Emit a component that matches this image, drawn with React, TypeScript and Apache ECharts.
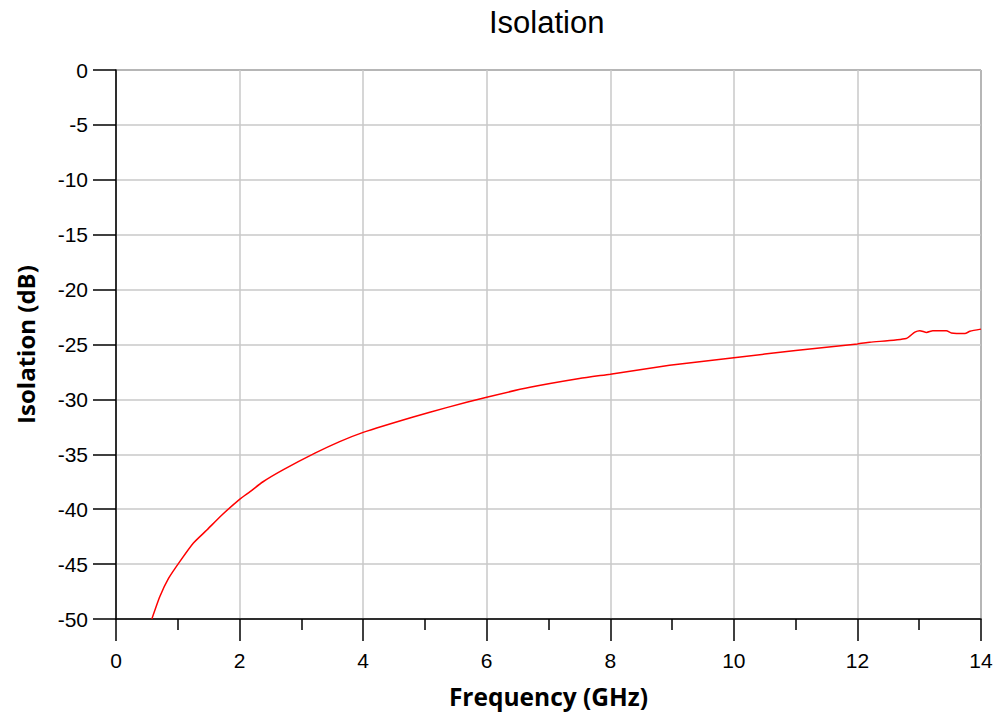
import React, { useEffect, useRef } from "react";
import * as echarts from "echarts";

const freqGHz = [
  0.58, 0.71, 0.85, 1.035, 1.25, 1.47, 1.71, 2.0, 2.17, 2.38, 2.71, 3.22, 3.62, 4.0, 4.81, 5.35, 6.0, 6.7, 7.5,
  8.0, 8.96, 10.0, 11.0, 12.0, 12.2, 12.79, 12.93, 13.01, 13.12, 13.22, 13.44, 13.52, 13.74, 13.82, 14.0,
];
const isolationDb = [
  -50, -47.95, -46.3, -44.75, -43.1, -41.9, -40.55, -39.1, -38.4, -37.5, -36.4, -34.9, -33.85, -33.0, -31.6,
  -30.75, -29.8, -28.9, -28.1, -27.7, -26.9, -26.2, -25.55, -24.95, -24.8, -24.45, -23.87, -23.74, -23.9,
  -23.74, -23.74, -23.95, -24.0, -23.8, -23.6,
];

const titleText = "Isolation";
const xName = "Frequency (GHz)";
const yName = "Isolation (dB)";

export default function App() {
  const ref = useRef<HTMLDivElement>(null);
  useEffect(() => {
    if (!ref.current) return;
    const chart = echarts.init(ref.current, undefined, { renderer: "svg" });
    const data = freqGHz.map((f, i) => [f, isolationDb[i]]);
    chart.setOption({
      animation: false,
      backgroundColor: "#fff",
      title: {
        text: titleText,
        left: 489,
        top: 7,
        padding: 0,
        textStyle: {
          fontFamily: "Liberation Sans",
          fontSize: 31,
          fontWeight: "normal",
          color: "#000",
        },
      },
      grid: {
        left: 116,
        right: 16,
        top: 70,
        bottom: 98,
        show: true,
        borderColor: "#000",
        borderWidth: 1,
      },
      xAxis: {
        type: "value",
        min: 0,
        max: 14,
        interval: 2,
        name: xName,
        nameLocation: "middle",
        nameGap: 65,
        nameTextStyle: {
          fontFamily: "Open Sans",
          fontWeight: "bold",
          fontSize: 24.5,
          color: "#000",
        },
        axisLine: { show: true, onZero: false, lineStyle: { color: "#000", width: 1.5 } },
        axisTick: { show: true, inside: false, length: 22, lineStyle: { color: "#000", width: 1.5 } },
        minorTick: { show: true, splitNumber: 2, length: 11, lineStyle: { color: "#000", width: 1.5 } },
        axisLabel: {
          margin: 31,
          fontFamily: "Liberation Sans",
          fontSize: 21,
          color: "#000",
        },
        splitLine: { show: true, lineStyle: { color: "#c8c8c8", width: 1.5 } },
      },
      yAxis: {
        type: "value",
        min: -50,
        max: 0,
        interval: 5,
        name: yName,
        nameLocation: "middle",
        nameGap: 79,
        nameRotate: 90,
        nameTextStyle: {
          fontFamily: "Open Sans",
          fontWeight: "bold",
          fontSize: 24,
          color: "#000",
        },
        axisLine: { show: true, onZero: false, lineStyle: { color: "#000", width: 1.5 } },
        axisTick: { show: true, inside: false, length: 23, lineStyle: { color: "#000", width: 1.5 } },
        axisLabel: {
          margin: 28,
          fontFamily: "Liberation Sans",
          fontSize: 21,
          color: "#000",
        },
        splitLine: { show: true, lineStyle: { color: "#c8c8c8", width: 1.5 } },
      },
      series: [
        {
          type: "line",
          data,
          showSymbol: false,
          smooth: 0.2,
          clip: true,
          lineStyle: { color: "#ff0000", width: 1.5 },
        },
      ],
    });
    return () => chart.dispose();
  }, []);
  return <div ref={ref} style={{ width: 997, height: 717, position: "absolute", left: 0, top: 0 }} />;
}
